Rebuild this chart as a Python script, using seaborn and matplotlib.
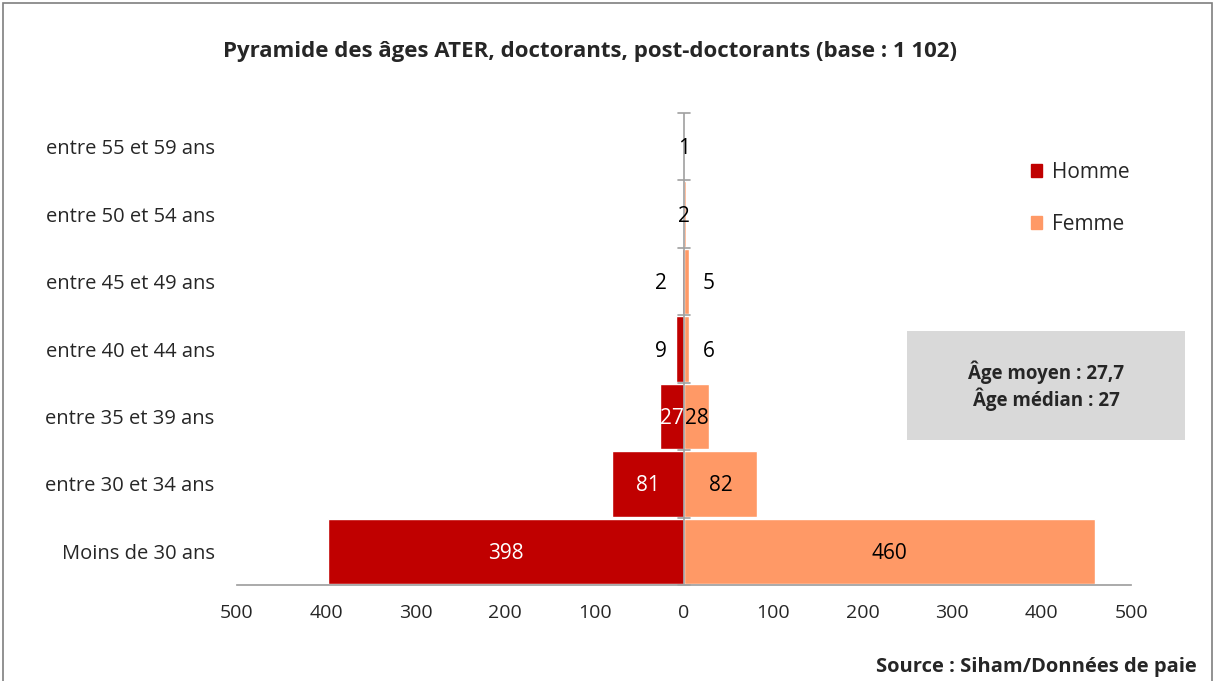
import numpy as np
import pandas as pd
import matplotlib
matplotlib.use("Agg")
import matplotlib.pyplot as plt
import seaborn as sns
from matplotlib.patches import Rectangle, Patch

# data
age_groups = ["entre 55 et 59 ans", "entre 50 et 54 ans", "entre 45 et 49 ans",
              "entre 40 et 44 ans", "entre 35 et 39 ans", "entre 30 et 34 ans",
              "Moins de 30 ans"]
hommes = [0, 0, 2, 9, 27, 81, 398]
femmes = [1, 2, 5, 6, 28, 82, 460]
tick_values = [-500, -400, -300, -200, -100, 0, 100, 200, 300, 400, 500]

col_h = "#C00000"
col_f = "#FF9966"

sns.set_theme(style="white")
plt.rcParams["font.family"] = ["Open Sans", "DejaVu Sans"]

df = pd.DataFrame({"age": age_groups * 2,
                   "value": [-v for v in hommes] + femmes,
                   "sexe": ["Homme"] * len(hommes) + ["Femme"] * len(femmes)})

fig = plt.figure(figsize=(12.15, 6.81), dpi=100)
ax = fig.add_axes([0.195, 0.141, 0.736, 0.693])

sns.barplot(data=df, x="value", y="age", hue="sexe", order=age_groups,
            palette={"Homme": col_h, "Femme": col_f}, dodge=False,
            saturation=1, width=0.97, ax=ax, legend=False, orient="h")

ax.set_xlim(-500, 500)
ax.set_ylim(len(age_groups) - 0.5, -0.5)
ax.set_xticks(tick_values)
ax.set_xticklabels([str(abs(t)) for t in tick_values], fontsize=14)
ax.tick_params(axis="x", length=6, color="#A0A0A0", width=1, direction="out", pad=8)
ax.tick_params(axis="y", length=0, pad=16, labelsize=14.5)
ax.set_xlabel("")
ax.set_ylabel("")
for s in ["top", "right", "left"]:
    ax.spines[s].set_visible(False)
ax.spines["bottom"].set_color("#A0A0A0")

# central vertical axis with small ticks at category boundaries
ax.axvline(0, color="#A0A0A0", lw=1.2, zorder=3)
for b in np.arange(-0.5, len(age_groups), 1.0):
    ax.plot([-7, 7], [b, b], color="#A0A0A0", lw=1.2, zorder=3, clip_on=False)

# value labels
fs = 15
for i, (h, f) in enumerate(zip(hommes, femmes)):
    if h == 0:
        ax.text(0, i + 0.03, str(f), ha="center", va="center", fontsize=fs, color="black", zorder=4)
        continue
    if h < 20:
        ax.text(-26, i + 0.03, str(h), ha="center", va="center", fontsize=fs, color="black", zorder=4)
        ax.text(28, i + 0.03, str(f), ha="center", va="center", fontsize=fs, color="black", zorder=4)
    else:
        ax.text(-h / 2, i + 0.03, str(h), ha="center", va="center", fontsize=fs, color="white", zorder=4)
        ax.text(f / 2, i + 0.03, str(f), ha="center", va="center", fontsize=fs, color="black", zorder=4)

# legend
handles = [Patch(color=col_h, label="Homme"), Patch(color=col_f, label="Femme")]
fig.legend(handles=handles, loc="upper left", bbox_to_anchor=(0.833, 0.79),
           frameon=False, fontsize=15, handlelength=0.55, handleheight=0.55,
           handletextpad=0.45, labelspacing=1.5)

# stats box
fig.patches.append(Rectangle((907 / 1215, 1 - 440 / 681), 278 / 1215, 109 / 681,
                             transform=fig.transFigure, facecolor="#D9D9D9",
                             edgecolor="none", zorder=0))
fig.text(1046 / 1215, 1 - 386 / 681, "Âge moyen : 27,7\nÂge médian : 27",
         ha="center", va="center", fontsize=13.5, fontweight="bold",
         linespacing=1.2)

fig.text(590 / 1215, 1 - 52 / 681,
         "Pyramide des âges ATER, doctorants, post-doctorants (base : 1 102)",
         ha="center", va="center", fontsize=16, fontweight="bold")
fig.text(1197 / 1215, 1 - 667 / 681, "Source : Siham/Données de paie",
         ha="right", va="center", fontsize=14.5, fontweight="bold")

# outer frame
fig.patches.append(Rectangle((3 / 1215, -0.01), 1 - 6 / 1215, 1 - 3 / 681 + 0.01,
                             transform=fig.transFigure, fill=False,
                             edgecolor="#7F7F7F", lw=1.2))

fig.savefig("out.png", dpi=100)
